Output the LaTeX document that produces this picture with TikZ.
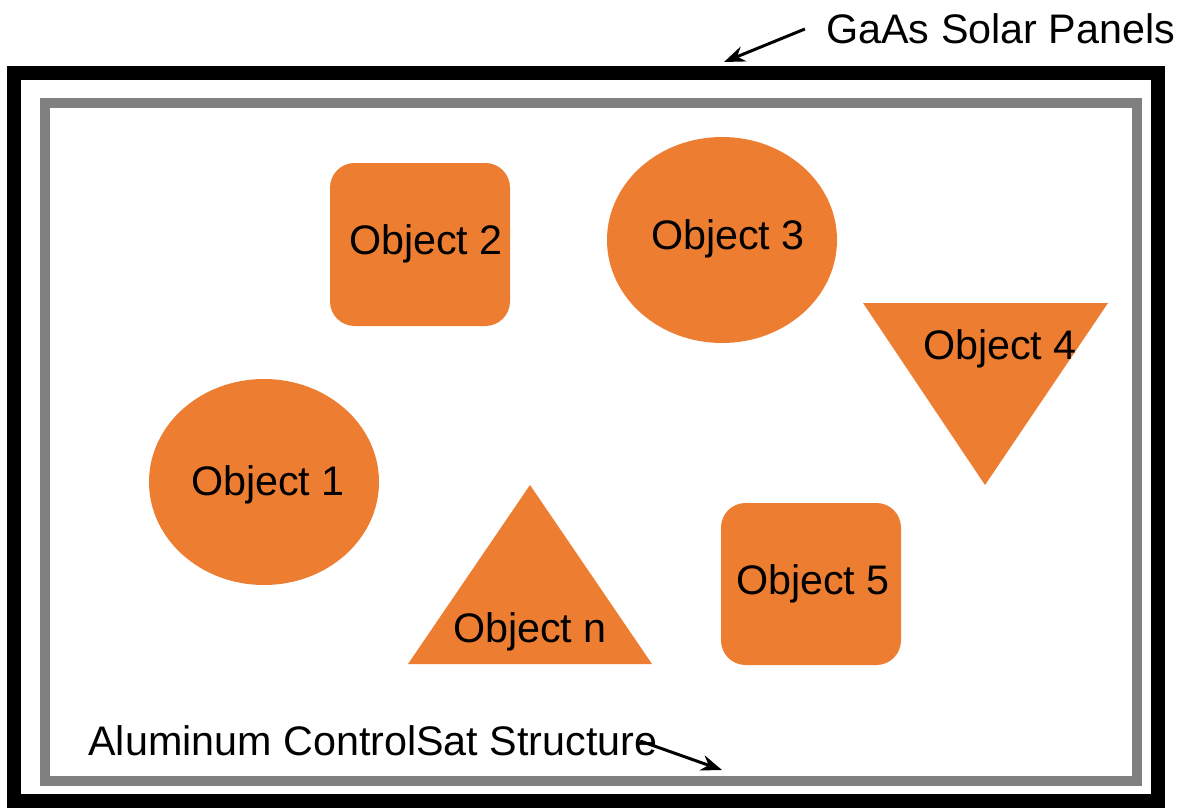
\documentclass[tikz,border=0pt]{standalone}
\usepackage{fontspec}
\setmainfont{Liberation Sans}
\usetikzlibrary{arrows.meta}
\definecolor{objorange}{HTML}{ED7D31}
\definecolor{framegray}{HTML}{808080}
\begin{document}
\begin{tikzpicture}[x=0.02cm,y=-0.02cm,
  obj/.style={fill=objorange,draw=none},
  lbl/.style={font=\fontsize{23.5}{28}\selectfont,inner sep=0pt},
  pointer/.style={line width=1.7pt,-{Stealth[length=12pt,width=9pt]}}]
\useasboundingbox (0,0) rectangle (1180,811);
\fill[white] (0,0) rectangle (1180,811);
% frames
\draw[line width=7.6pt,black] (14,73) rectangle (1158,801);
\draw[line width=5.7pt,framegray] (45,103) rectangle (1137,781);
% shapes
\fill[obj,rounded corners=14pt] (330,163) rectangle (510,326);
\fill[obj] (722,240) ellipse [x radius=115,y radius=103];
\fill[obj] (863,303) -- (1108,303) -- (985,485) -- cycle;
\fill[obj] (264,482) ellipse [x radius=115,y radius=103];
\fill[obj] (530,485) -- (652,664) -- (408,664) -- cycle;
\fill[obj,rounded corners=14pt] (721,503) rectangle (901,665);
% labels
\node[lbl] (o2) at (426,244) {Object 2};
\node[lbl] (o3) at (728,239) {Object 3};
\node[lbl] (o4) at (1000,349) {Object 4};
\node[lbl] (o1) at (268,485) {Object 1};
\node[lbl] (on) at (530,632) {Object n};
\node[lbl] (o5) at (813,584) {Object 5};
\node[lbl,anchor=west] (gaas) at (826,29) {GaAs Solar Panels};
\node[lbl,anchor=west] (alu) at (88,741) {Aluminum ControlSat Structure};
% pointers
\coordinate (gaastip) at (724,62);
\coordinate (alustip) at (722,770);
\draw[pointer] ([xshift=-12pt]gaas.west) -- (gaastip);
\draw[pointer] (alu.east) ++(-10pt,0) -- (alustip);
\end{tikzpicture}
\end{document}
